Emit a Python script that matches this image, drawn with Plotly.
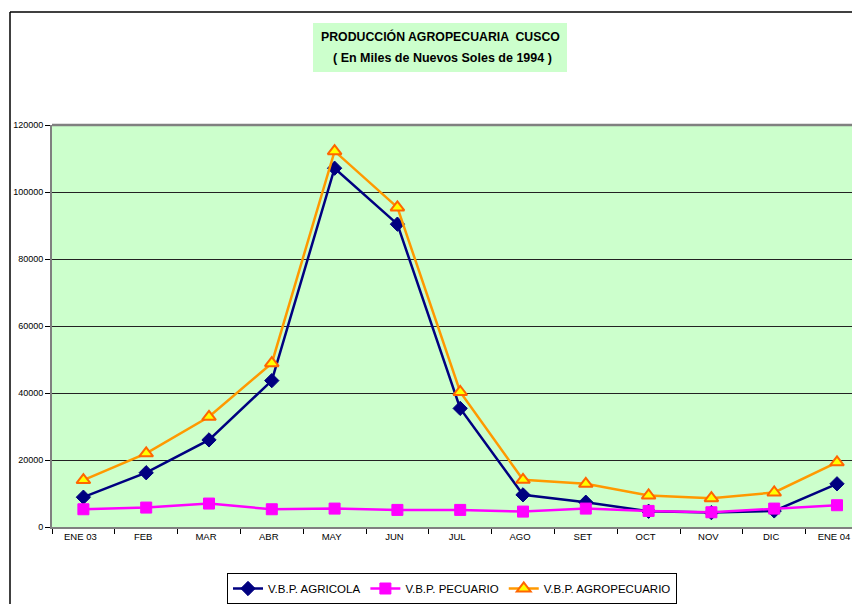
import plotly.graph_objects as go

months = ["ENE 03", "FEB", "MAR", "ABR", "MAY", "JUN", "JUL", "AGO", "SET", "OCT", "NOV", "DIC", "ENE 04"]
agricola = [8900, 16200, 26000, 43700, 107100, 90400, 35400, 9600, 7400, 4700, 4300, 4800, 12900]
pecuario = [5300, 5800, 7000, 5300, 5500, 5100, 5100, 4600, 5500, 4800, 4400, 5500, 6500]
agropecuario = [14000, 22000, 32900, 48900, 112200, 95400, 40300, 14100, 12900, 9400, 8600, 10300, 19300]
y_ticks = [0, 20000, 40000, 60000, 80000, 100000, 120000]

# page has an 8px body margin; work in page pixel coordinates and offset
OFF = 8
W, H = 860 - 2 * OFF, 612 - 2 * OFF
PL, PT, PB, PR = 52, 125, 527, 852  # plot area in page pixels
L, T = PL - OFF, PT - OFF
B = H - (PB - OFF)
R = W - (PR - OFF)
pw, ph = PR - PL, PB - PT
step = 62.8  # category spacing in px
x_hi = -0.5 + pw / step

def px(X):
    return (X - PL) / pw

def py(Y):
    return (PB - Y) / ph

FONT = "Liberation Sans, Arial, sans-serif"

fig = go.Figure()
fig.add_trace(go.Scatter(
    x=months, y=agricola, name="V.B.P. AGRICOLA", mode="lines+markers",
    line=dict(color="#000080", width=2.5),
    marker=dict(symbol="diamond", size=11, color="#000080", line=dict(color="#000080", width=1)),
))
fig.add_trace(go.Scatter(
    x=months, y=pecuario, name="V.B.P. PECUARIO", mode="lines+markers",
    line=dict(color="#FF00FF", width=2.5),
    marker=dict(symbol="square", size=11, color="#FF00FF", line=dict(color="#FF00FF", width=1)),
))
fig.add_trace(go.Scatter(
    x=months, y=agropecuario, name="V.B.P. AGROPECUARIO", mode="lines+markers",
    line=dict(color="#FF9900", width=2.5),
    marker=dict(symbol="triangle-up", size=12, color="#FFFF00", line=dict(color="#FF6600", width=2)),
))

fig.update_layout(
    width=W, height=H,
    margin=dict(l=L, r=R, t=T, b=B, pad=0, autoexpand=False),
    paper_bgcolor="white",
    plot_bgcolor="#CCFFCC",
    font=dict(family=FONT, size=9, color="black"),
    showlegend=True,
    legend=dict(
        orientation="h", x=px(452), y=py(573), xanchor="center", yanchor="top",
        bgcolor="white", bordercolor="black", borderwidth=1,
        font=dict(family=FONT, size=11.5, color="black"),
        tracegroupgap=0,
    ),
    xaxis=dict(
        type="category", categoryorder="array", categoryarray=months,
        range=[-0.5, x_hi], tickson="boundaries", ticks="outside", ticklen=5,
        tickcolor="black", tickfont=dict(family=FONT, size=9.5),
        ticklabelshift=-3,
        showgrid=False, showline=True, linecolor="#808080", linewidth=2,
        zeroline=False, automargin=False,
    ),
    yaxis=dict(
        range=[0, 120000], tickvals=y_ticks, ticktext=[str(v) for v in y_ticks],
        ticks="outside", ticklen=5, tickcolor="black",
        tickfont=dict(family=FONT, size=9),
        showgrid=True, gridcolor="#222222", gridwidth=1,
        showline=True, linecolor="#808080", linewidth=2,
        zeroline=False, automargin=False,
    ),
    shapes=[
        # plot top border
        dict(type="line", xref="paper", yref="paper", x0=0, x1=1.02, y0=1, y1=1,
             line=dict(color="#808080", width=2.5)),
        # outer chart border (top + left)
        dict(type="line", xref="paper", yref="paper", x0=px(10), x1=1.05, y0=py(12), y1=py(12),
             line=dict(color="black", width=1.5)),
        dict(type="line", xref="paper", yref="paper", x0=px(10), x1=px(10), y0=py(12), y1=py(620),
             line=dict(color="black", width=1.5)),
        # title background box
        dict(type="rect", xref="paper", yref="paper", x0=px(313), x1=px(567), y0=py(23), y1=py(72),
             fillcolor="#CCFFCC", line=dict(width=0), layer="below"),
    ],
    annotations=[
        dict(text="<b>PRODUCCIÓN AGROPECUARIA  CUSCO</b>", xref="paper", yref="paper",
             x=px(440), y=py(36), xanchor="center", yanchor="middle", showarrow=False,
             font=dict(family=FONT, size=12.3, color="black")),
        dict(text="<b>( En Miles de Nuevos Soles de 1994 )</b>", xref="paper", yref="paper",
             x=px(442), y=py(58), xanchor="center", yanchor="middle", showarrow=False,
             font=dict(family=FONT, size=12.5, color="black")),
    ],
)

fig.write_html("out.html")
